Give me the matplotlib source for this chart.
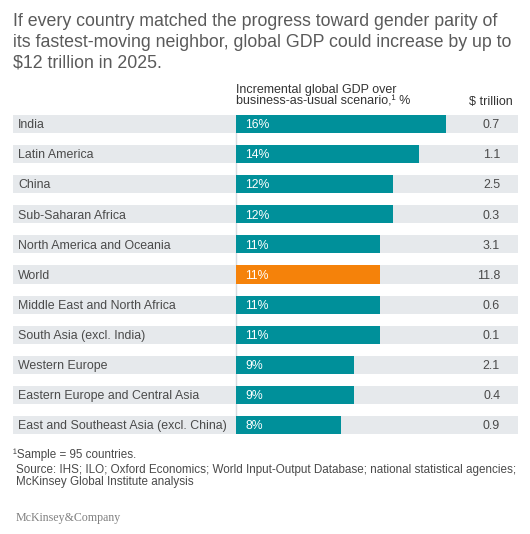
import matplotlib
matplotlib.use('Agg')

import matplotlib.pyplot as plt

regions = [
    'India',
    'Latin America',
    'China',
    'Sub-Saharan Africa',
    'North America and Oceania',
    'World',
    'Middle East and North Africa',
    'South Asia (excl. India)',
    'Western Europe',
    'Eastern Europe and Central Asia',
    'East and Southeast Asia (excl. China)',
]
gdp_pct = [16, 14, 12, 12, 11, 11, 11, 11, 9, 9, 8]
gdp_trillion = ['0.7', '1.1', '2.5', '0.3', '3.1', '11.8', '0.6', '0.1', '2.1', '0.4', '0.9']

title_lines = [
    'If every country matched the progress toward gender parity of',
    'its fastest-moving neighbor, global GDP could increase by up to',
    '$12 trillion in 2025.',
]

W, H = 530, 534
TEAL = '#00909a'
ORANGE = '#f5820a'
BAND = '#e6e9ec'
TEXT = '#4a4a4a'

plt.rcParams['font.family'] = ['Liberation Sans', 'DejaVu Sans']

fig = plt.figure(figsize=(W / 100, H / 100), dpi=100)


def fx(px):
    return px / W


def fy(px):
    return 1 - px / H


# axes in pixel layout: x 13..518, rows from y 109 to 440
left, right = 13, 518
top, bottom = 109, 440
ax = fig.add_axes([fx(left), fy(bottom), fx(right - left), (bottom - top) / H])
px_per_pct = 13.1
zero_px = 236
ax.set_xlim(-(zero_px - left) / px_per_pct, (right - zero_px) / px_per_pct)
ax.set_ylim(len(regions) - 0.5, -0.5)
ax.axis('off')

for i in range(len(regions)):
    ax.axhspan(i - 0.3, i + 0.3, color=BAND, lw=0, zorder=1)

ax.vlines(0, 0, len(regions) - 1, color='#d5dbe0', lw=1, zorder=0.5)

colors = [ORANGE if r == 'World' else TEAL for r in regions]
ax.barh(range(len(regions)), gdp_pct, height=0.6, color=colors, lw=0, zorder=2)

# baseline sits ~4 px below the row centre
base = 4.2 / ((bottom - top) / len(regions))
ytr = ax.get_yaxis_transform()
for i, (r, p, t) in enumerate(zip(regions, gdp_pct, gdp_trillion)):
    ax.text((18 - left) / (right - left), i + base, r, transform=ytr, ha='left',
            va='baseline', fontsize=8.9, color=TEXT, zorder=3)
    ax.text(0.7, i + base, f'{p}%', ha='left', va='baseline', fontsize=8.8,
            color='white', zorder=3)
    ax.text((500 - left) / (right - left), i + base, t, transform=ytr, ha='right',
            va='baseline', fontsize=8.9, color=TEXT, zorder=3)

for line, ypx in zip(title_lines, [26.4, 46.8, 67.2]):
    fig.text(fx(13), fy(ypx), line, ha='left', va='baseline', fontsize=12.8,
             color='#5a5a5a')

fig.text(fx(236), fy(93), 'Incremental global GDP over', ha='left', va='baseline',
         fontsize=9, color='#333333')
fig.text(fx(236), fy(104.7), 'business-as-usual scenario,\u00b9 %', ha='left',
         va='baseline', fontsize=9, color='#333333')
fig.text(fx(513), fy(104.7), '$ trillion', ha='right', va='baseline',
         fontsize=9, color='#333333')

fig.text(fx(13), fy(457.7), '\u00b9Sample = 95 countries.', ha='left', va='baseline',
         fontsize=8.4, color=TEXT)
fig.text(fx(16), fy(473.5), 'Source: IHS; ILO; Oxford Economics; World Input-Output Database; '
         'national statistical agencies;', ha='left', va='baseline', fontsize=8.4, color=TEXT)
fig.text(fx(16), fy(485.3), 'McKinsey Global Institute analysis', ha='left', va='baseline',
         fontsize=8.4, color=TEXT)

fig.text(fx(16), fy(521), 'McKinsey&Company', ha='left', va='baseline', fontsize=8.6,
         color='#808080', family=['Liberation Serif', 'DejaVu Serif'])

fig.savefig('out.png', dpi=100, facecolor='white')
